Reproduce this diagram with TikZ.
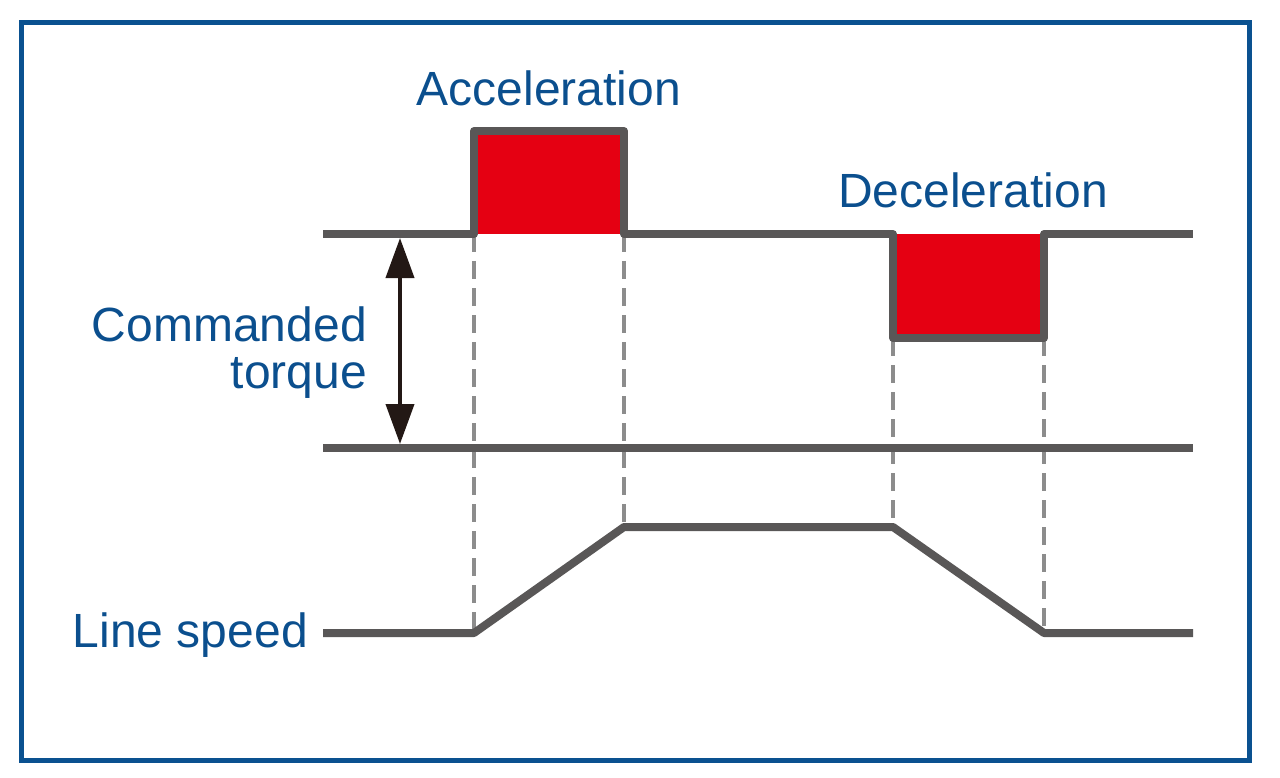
\documentclass[tikz,border=0pt]{standalone}
\usepackage{fontspec}
\setmainfont{Liberation Sans}
\usetikzlibrary{arrows.meta}
\definecolor{frameblue}{HTML}{0A5190}
\definecolor{textblue}{HTML}{0B4F8E}
\definecolor{wavegray}{HTML}{595757}
\definecolor{dashgray}{HTML}{8C8C8C}
\definecolor{pulsered}{HTML}{E50012}
\definecolor{arrowblack}{HTML}{231815}
\begin{document}
\begin{tikzpicture}[x=1pt,y=-1pt,
  lbl/.style={inner sep=0pt,text=textblue,font=\fontsize{48}{47}\selectfont},
  wave/.style={draw=wavegray,line width=8pt,line join=round},
  guide/.style={draw=dashgray,line width=4.5pt,dash pattern=on 18pt off 9pt},
  redfill/.style={fill=pulsered},
  dimarrow/.style={draw=arrowblack,line width=4pt,{Triangle[length=40pt,width=28pt]}-{Triangle[length=40pt,width=28pt]}},
  frame/.style={draw=frameblue,line width=5pt}]
\useasboundingbox (0,0) rectangle (1280,778);
\draw[frame] (21.5,22.5) rectangle (1249.5,760.5);
% key points
\coordinate (tL) at (323,234);
\coordinate (a1b) at (474,234);
\coordinate (a1t) at (474,131);
\coordinate (a2t) at (624,131);
\coordinate (a2b) at (624,234);
\coordinate (d1t) at (893,234);
\coordinate (d1b) at (893,338);
\coordinate (d2b) at (1044,338);
\coordinate (d2t) at (1044,234);
\coordinate (tR) at (1193,234);
\coordinate (zL) at (323,448);
\coordinate (zR) at (1193,448);
\coordinate (sL) at (323,633);
\coordinate (s1) at (474,633);
\coordinate (s2) at (624,527);
\coordinate (s3) at (893,527);
\coordinate (s4) at (1044,633);
\coordinate (sR) at (1193,633);
\coordinate (arT) at (400,238);
\coordinate (arB) at (400,444);
% red areas
\fill[redfill] (a1t) rectangle (a2b);
\fill[redfill] (d1t) rectangle (d2b);
% dashed guides
\draw[guide] (a1b) -- (s1);
\draw[guide] (a2b) -- (s2);
\draw[guide] (d1b) -- (s3);
\draw[guide] (d2b) -- (s4);
% waveforms
\draw[wave] (tL) -- (a1b) -- (a1t) -- (a2t) -- (a2b) -- (d1t) -- (d1b) -- (d2b) -- (d2t) -- (tR);
\draw[wave] (zL) -- (zR);
\draw[wave] (sL) -- (s1) -- (s2) -- (s3) -- (s4) -- (sR);
% arrow
\draw[dimarrow] (arT) -- (arB);
% labels
\node[lbl,anchor=base] (acc) at (549,106) {Acceleration};
\node[lbl,anchor=base] (dec) at (973,208) {Deceleration};
\node[lbl,anchor=base east,align=right] (cmd) at (367,388) {Commanded\\torque};
\node[lbl,anchor=base east] (spd) at (308,647) {Line speed};
\end{tikzpicture}
\end{document}
